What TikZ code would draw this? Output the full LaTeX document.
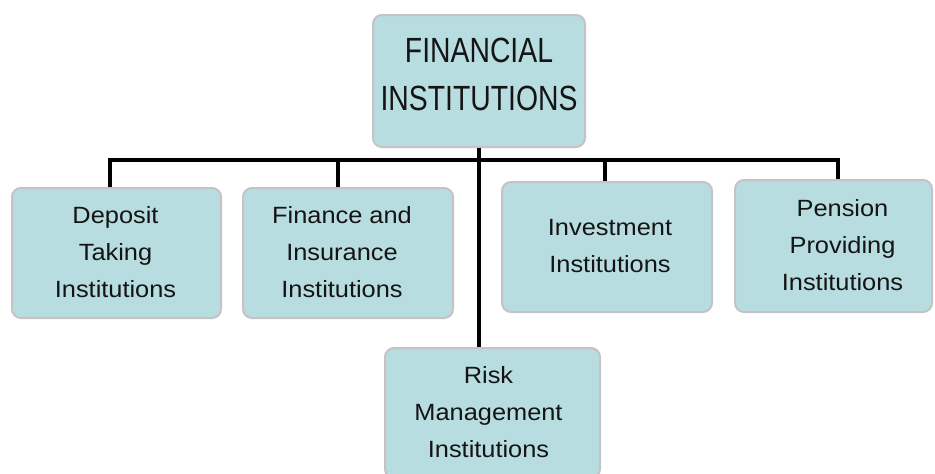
\documentclass[tikz,border=0pt]{standalone}
\usepackage{fontspec}
\setmainfont{Liberation Sans}[FakeStretch=1.08]
\newfontfamily\narrowfont{Liberation Sans}[FakeStretch=0.81]
\definecolor{boxfill}{HTML}{B8DDE1}
\definecolor{boxline}{HTML}{C6C2C6}
\definecolor{txt}{HTML}{141414}
\newcommand{\shiftlines}[2]{\hspace*{#1}\begin{tabular}{@{}c@{}}#2\end{tabular}}
\begin{document}
\begin{tikzpicture}[x=1pt,y=-1pt,
  box/.style={draw=boxline, fill=boxfill, line width=2pt, rounded corners=9pt,
    align=center, text=txt, inner sep=0pt,
    font=\fontsize{23.5}{37}\selectfont},
  topbox/.style={box, font=\narrowfont\fontsize{35}{48}\selectfont},
  conn/.style={draw=black, line width=3.2pt}]
\useasboundingbox (0,0) rectangle (935,474);
\fill[white] (0,0) rectangle (935,474);

\node[topbox, minimum width=212, minimum height=132] (top) at (479,81) {FINANCIAL\\INSTITUTIONS\rule[-14pt]{0pt}{0pt}};
\node[box, minimum width=209, minimum height=130] (dep) at (116.5,253) {\shiftlines{-2pt}{Deposit\\Taking\\Institutions}};
\node[box, minimum width=210, minimum height=130] (fin) at (348,253) {\shiftlines{-12pt}{Finance and\\Insurance\\Institutions}};
\node[box, minimum width=210, minimum height=130] (inv) at (607,247) {\shiftlines{6pt}{Investment\\Institutions}};
\node[box, minimum width=197, minimum height=132] (pen) at (833.5,246) {\shiftlines{18pt}{Pension\\Providing\\Institutions}};
\node[box, minimum width=215, minimum height=130] (risk) at (492.5,413) {\shiftlines{-8pt}{Risk\\Management\\Institutions}};

\coordinate (bus) at (0,160);
\coordinate (dn) at ([xshift=-6.5pt]dep.north);
\coordinate (fn) at ([xshift=-10pt]fin.north);
\coordinate (in) at ([xshift=-2pt]inv.north);
\coordinate (pn) at ([xshift=4.5pt]pen.north);

\draw[conn] (top.south) -- (top.south |- risk.north);
\draw[conn] (dn) |- (pn |- bus) -- (pn);
\draw[conn] (fn) -- (fn |- bus);
\draw[conn] (in) -- (in |- bus);
\end{tikzpicture}
\end{document}
